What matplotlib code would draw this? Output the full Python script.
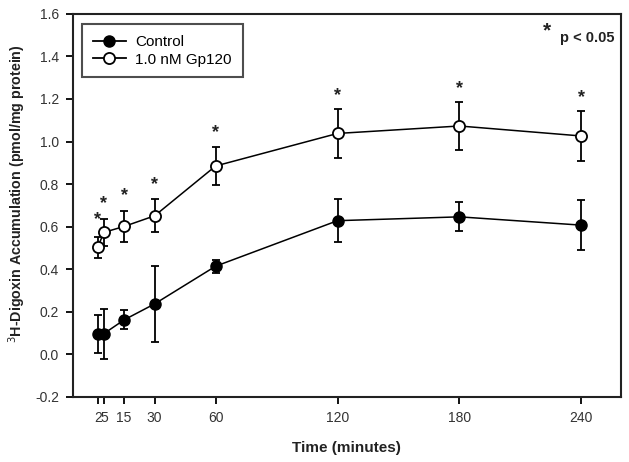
import matplotlib
matplotlib.use("Agg")
import matplotlib.pyplot as plt
from matplotlib.lines import Line2D
import numpy as np

plt.rcParams['font.family'] = ['Liberation Sans', 'DejaVu Sans']

time = [2, 5, 15, 30, 60, 120, 180, 240]
tick_labels = ['2', '5', '15', '30', '60', '120', '180', '240']
control = [0.097, 0.097, 0.162, 0.237, 0.414, 0.628, 0.646, 0.607]
control_err = [0.09, 0.118, 0.045, 0.178, 0.03, 0.10, 0.068, 0.118]
gp120 = [0.503, 0.573, 0.601, 0.651, 0.885, 1.038, 1.073, 1.026]
gp120_err = [0.05, 0.065, 0.074, 0.078, 0.09, 0.117, 0.114, 0.117]
star_y = [0.632, 0.709, 0.745, 0.796, 1.044, 1.216, 1.249, 1.205]

fig = plt.figure(figsize=(6.29, 4.62), dpi=100)
ax = fig.add_axes([0.116, 0.141, 0.871, 0.829])

ms = 8
ax.errorbar(time, control, yerr=control_err, color='black', marker='o',
            markersize=ms, markerfacecolor='black', markeredgecolor='black',
            linewidth=1.1, elinewidth=1.3, capsize=3, capthick=1.3,
            zorder=3)
ax.errorbar(time, gp120, yerr=gp120_err, color='black', marker='o',
            markersize=ms, markerfacecolor='white', markeredgecolor='black',
            markeredgewidth=1.3, linewidth=1.1, elinewidth=1.3, capsize=3,
            capthick=1.3, zorder=3)

for t, s in zip(time, star_y):
    ax.text(t, s, '*', ha='center', va='center', fontsize=13,
            fontweight='bold', color='#222222')

ax.text(0.865, 0.955, '*', transform=ax.transAxes, ha='center', va='center',
        fontsize=15, fontweight='bold', color='#222222')
ax.text(0.989, 0.937, 'p < 0.05', transform=ax.transAxes, ha='right',
        va='center', fontsize=10.5, fontweight='bold', color='#222222')

ax.set_xlim(-10.2, 259.4)
ax.set_ylim(-0.2, 1.6)
ax.set_xticks(time)
ax.set_xticklabels(tick_labels)
yt = np.arange(-0.2, 1.61, 0.2)
ax.set_yticks(yt)
ax.set_yticklabels([f'{v:.1f}' for v in yt])
ax.tick_params(axis='both', direction='out', length=5, width=1.3,
               labelsize=10, labelcolor='#333333', pad=5)
for sp in ax.spines.values():
    sp.set_linewidth(1.5)
    sp.set_color('#222222')

ax.set_xlabel('Time (minutes)', fontsize=11, fontweight='bold', labelpad=12,
              color='#222222')
ax.set_ylabel('$^{3}$H-Digoxin Accumulation (pmol/mg protein)', fontsize=10.3,
              fontweight='bold', color='#222222')
ax.yaxis.set_label_coords(-0.082, 0.53)

handles = [
    Line2D([], [], color='black', marker='o', markersize=ms,
           markerfacecolor='black', linewidth=1.3),
    Line2D([], [], color='black', marker='o', markersize=ms,
           markerfacecolor='white', markeredgewidth=1.3, linewidth=1.3),
]
leg = ax.legend(handles, ['Control', '1.0 nM Gp120'], loc='upper left',
                bbox_to_anchor=(0.008, 0.985), fontsize=11,
                frameon=True, fancybox=False, edgecolor='#222222',
                handlelength=2.2, handletextpad=0.6, borderpad=0.7,
                labelspacing=0.25, borderaxespad=0.3)
leg.get_frame().set_linewidth(1.5)

fig.savefig('out.png', dpi=100)
